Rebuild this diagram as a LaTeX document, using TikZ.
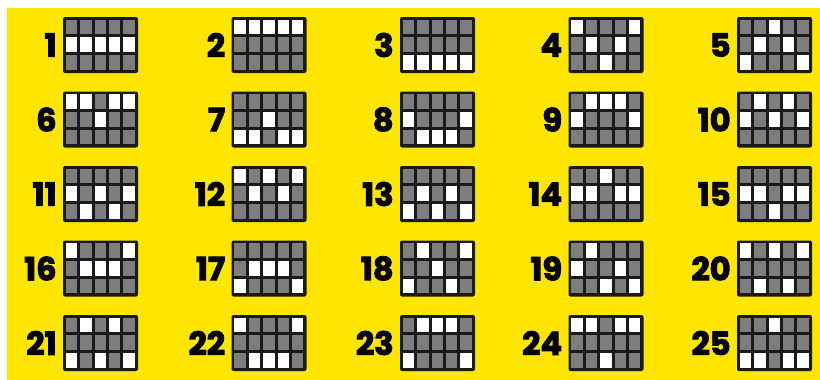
\documentclass[tikz,border=0pt]{standalone}
\usepackage{fontspec}
\newfontfamily\numfont{Poppins}[FakeBold=3]
\definecolor{bgyellow}{HTML}{FFE500}
\definecolor{cellgray}{HTML}{7E7E7E}
\definecolor{gridline}{HTML}{1A1A1A}
\tikzset{
  gridbox/.style={rectangle, fill=gridline, minimum width=75pt, minimum height=56pt, inner sep=0pt, rounded corners=2pt},
  numlabel/.style={anchor=east, inner sep=0pt, font=\numfont\bfseries\fontsize{32}{32}\selectfont, text=black},
  graycell/.style={fill=cellgray},
  whitecell/.style={fill=white}
}
\begin{document}
\begin{tikzpicture}[x=1pt,y=-1pt]
\useasboundingbox (0,0) rectangle (820,380);
\fill[white] (0,0) rectangle (820,380);
\fill[bgyellow] (7,8) rectangle (820,380);
\foreach \n/\pa/\pb/\pc/\pd/\pe in {
  1/1/1/1/1/1, 2/0/0/0/0/0, 3/2/2/2/2/2, 4/0/1/2/1/0, 5/2/1/0/1/2,
  6/0/0/1/0/0, 7/2/2/1/2/2, 8/1/2/2/2/1, 9/1/0/0/0/1, 10/1/0/1/0/1,
  11/1/2/1/2/1, 12/0/1/0/1/0, 13/2/1/2/1/2, 14/1/1/0/1/1, 15/1/1/2/1/1,
  16/0/1/1/1/0, 17/2/1/1/1/2, 18/2/0/1/2/0, 19/1/0/2/1/2, 20/0/2/0/2/0,
  21/2/0/2/0/2, 22/0/2/2/2/0, 23/2/0/0/0/2, 24/0/0/2/0/0, 25/2/2/0/2/2}{
  \pgfmathtruncatemacro\ci{mod(\n-1,5)}
  \pgfmathtruncatemacro\rj{div(\n-1,5)}
  \pgfmathsetmacro\gx{63+168.5*\ci+37.5}
  \pgfmathsetmacro\gy{17+74.5*\rj+28}
  \node[gridbox] (g\n) at (\gx,\gy) {};
  \foreach \c in {0,...,4}{
    \foreach \r in {0,1,2}{
      \fill[graycell] ([shift={(3+14.4*\c,3+17.667*\r)}]g\n.north west) rectangle ++(11.4,14.667);
    }
  }
  \foreach \v [count=\k from 0] in {\pa,\pb,\pc,\pd,\pe}{
    \fill[whitecell] ([shift={(3+14.4*\k,3+17.667*\v)}]g\n.north west) rectangle ++(11.4,14.667);
  }
  \node[numlabel] (n\n) at ([xshift=-6pt]g\n.west) {\n};
}
\end{tikzpicture}
\end{document}
